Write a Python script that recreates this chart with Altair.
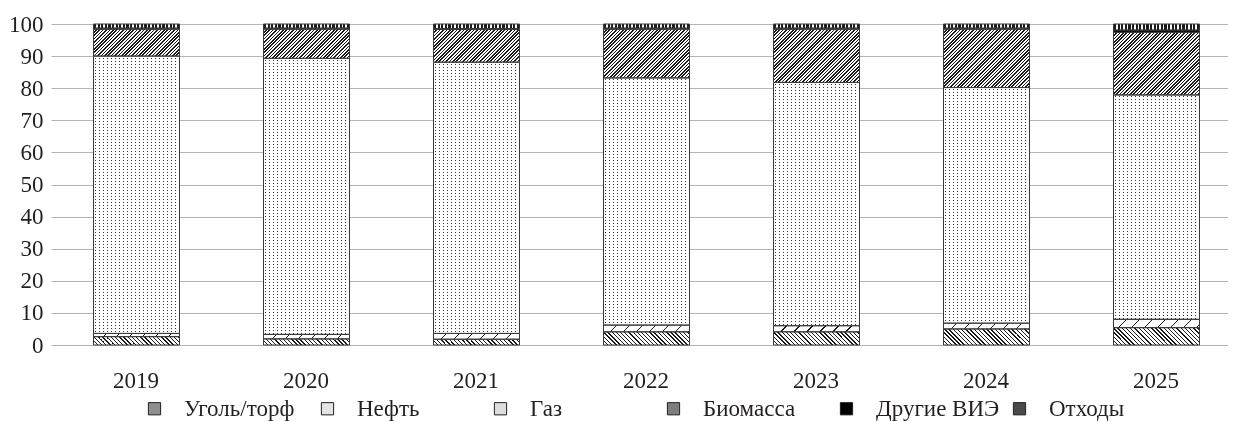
import math
import altair as alt
import pandas as pd

# ---------------- data ----------------
years = ["2019", "2020", "2021", "2022", "2023", "2024", "2025"]
sources = ["Уголь/торф", "Нефть", "Газ", "Биомасса", "Другие ВИЭ", "Отходы"]
coal = [2.6, 1.9, 1.8, 4.1, 4.1, 5.0, 5.4]
oil = [1.0, 1.4, 1.8, 2.1, 1.9, 1.8, 2.6]
gas = [86.4, 86.0, 84.5, 77.0, 75.8, 73.4, 69.9]
biomass = [8.4, 9.1, 10.2, 15.2, 16.6, 18.2, 19.5]
other_res = [0.3, 0.3, 0.3, 0.3, 0.3, 0.3, 0.7]
waste = [1.3, 1.3, 1.4, 1.3, 1.3, 1.3, 1.9]
y_ticks = [0, 10, 20, 30, 40, 50, 60, 70, 80, 90, 100]

series = [coal, oil, gas, biomass, other_res, waste]
rows = []
for i, yr in enumerate(years):
    for j, (src, vals) in enumerate(zip(sources, series)):
        rows.append({"year": yr, "source": src, "order": j, "value": vals[i]})
df = pd.DataFrame(rows)

# ---------------- layout / style ----------------
PAD_LEFT = 43
PAD_TOP = 16
PLOT_W = 1177
PLOT_H = 321
STEP = 170
X_RANGE = STEP * len(years)
P_OUTER = 42.0 / STEP
P_INNER = 2 * P_OUTER
BAR_W = STEP * (1 - P_INNER)
PX = PLOT_H / 100.0
FONT = "Liberation Serif"
FS = 23
DARK = "#1a1a1a"
WHITE = "#ffffff"


def stripe_stops(L, period, dark_w, phase=0.0):
    stops = []
    pos = phase
    while pos < L:
        s = round(pos / L, 6)
        e = round(min((pos + dark_w) / L, 1.0), 6)
        stops += [
            {"offset": s, "color": WHITE},
            {"offset": s, "color": DARK},
            {"offset": e, "color": DARK},
            {"offset": e, "color": WHITE},
        ]
        pos += period
    return stops


def grad_slash(h, period, dark_w):
    # "/" lines at 45 degrees inside a W x h box
    W = BAR_W
    L = W + h
    k = L / (W * W + h * h)
    return {"gradient": "linear", "x1": 0, "y1": 0, "x2": W * k, "y2": h * k,
            "stops": stripe_stops(L, period, dark_w)}


def grad_back(h, period, dark_w):
    # "\" lines at 45 degrees inside a W x h box
    W = BAR_W
    L = W + h
    k = L / (W * W + h * h)
    return {"gradient": "linear", "x1": 0, "y1": 1, "x2": W * k, "y2": 1 - h * k,
            "stops": stripe_stops(L, period, dark_w)}


def grad_hlines(h, top_px, period, dark_w):
    phase = (math.ceil(top_px) - top_px) + 1.0
    return {"gradient": "linear", "x1": 0, "y1": 0, "x2": 0, "y2": 1,
            "stops": stripe_stops(h, period, dark_w, phase=phase)}


def grad_vlines(period, dark_w, phase):
    return {"gradient": "linear", "x1": 0, "y1": 0, "x2": 1, "y2": 0,
            "stops": stripe_stops(BAR_W, period, dark_w, phase=phase)}


def test(src, yr):
    return "datum.source === '%s' && datum.year === '%s'" % (src, yr)


conds = []
for i, yr in enumerate(years):
    gas_top = coal[i] + oil[i] + gas[i]
    top_px = PAD_TOP + PLOT_H * (1 - gas_top / 100.0)
    conds.append({"test": test(sources[0], yr), "value": grad_back(coal[i] * PX, 4.2, 1.4)})
    conds.append({"test": test(sources[1], yr), "value": grad_slash(oil[i] * PX, 13.0, 1.3)})
    conds.append({"test": test(sources[2], yr), "value": grad_hlines(gas[i] * PX, top_px, 3.0, 1.0)})
    conds.append({"test": test(sources[3], yr), "value": grad_slash(biomass[i] * PX, 3.4, 1.6)})
conds.append({"test": "datum.source === '%s'" % sources[5], "value": grad_vlines(3.6, 2.2, 1.0)})
gas_dots = grad_vlines(4.0, 1.0, 2.0)

legend_fills = ["#8f8f8f", "#e4e4e4", "#dedede", "#7d7d7d", "#000000", "#4a4a4a"]

base = alt.Chart(df).transform_stack(
    stack="value", groupby=["year"], as_=["y0", "y1"], sort=[alt.SortField("order", order="ascending")]
).encode(
    x=alt.X("year:O", sort=years,
            scale=alt.Scale(range=[0, X_RANGE], paddingInner=P_INNER, paddingOuter=P_OUTER),
            axis=alt.Axis(title=None, labelAngle=0, domain=False, ticks=False, tickSize=0,
                          labelPadding=24, labelFont=FONT, labelFontSize=FS, labelColor="#231f20")),
    y=alt.Y("y0:Q", scale=alt.Scale(domain=[0, 100], nice=False),
            axis=alt.Axis(title=None, values=y_ticks, domain=False, ticks=False, tickSize=0,
                          labelPadding=8, labelFont=FONT, labelFontSize=FS, labelColor="#231f20",
                          gridColor="#b4b4b4", gridWidth=1)),
    y2="y1:Q",
)

fills = base.mark_bar().encode(
    fill=alt.Fill("source:N", sort=sources,
                  scale=alt.Scale(domain=sources, range=legend_fills),
                  condition=conds,
                  legend=alt.Legend(title=None, orient="none", direction="horizontal", columns=6,
                                    gridAlign="all", columnPadding=8, legendX=92, legendY=373,
                                    symbolType="square", symbolSize=150, symbolStrokeColor="#222222",
                                    symbolStrokeWidth=1, labelOffset=18, labelFont=FONT,
                                    labelFontSize=FS, labelColor="#231f20", padding=0)),
)

dots = base.transform_filter(alt.datum.source == sources[2]).mark_bar(blend="screen").encode(
    fill=alt.value(gas_dots),
)

outline = base.mark_bar(filled=False, stroke="#3a3a3a", strokeWidth=1, xOffset=0.5, x2Offset=-0.5)

chart = alt.layer(fills, dots, outline).properties(
    width=PLOT_W, height=PLOT_H,
    autosize=alt.AutoSizeParams(type="none"),
    padding={"left": PAD_LEFT, "top": PAD_TOP, "right": 0, "bottom": 76},
    background="white",
).configure_view(strokeWidth=0)

chart.save("out.html", embed_options={"renderer": "svg", "actions": False})
